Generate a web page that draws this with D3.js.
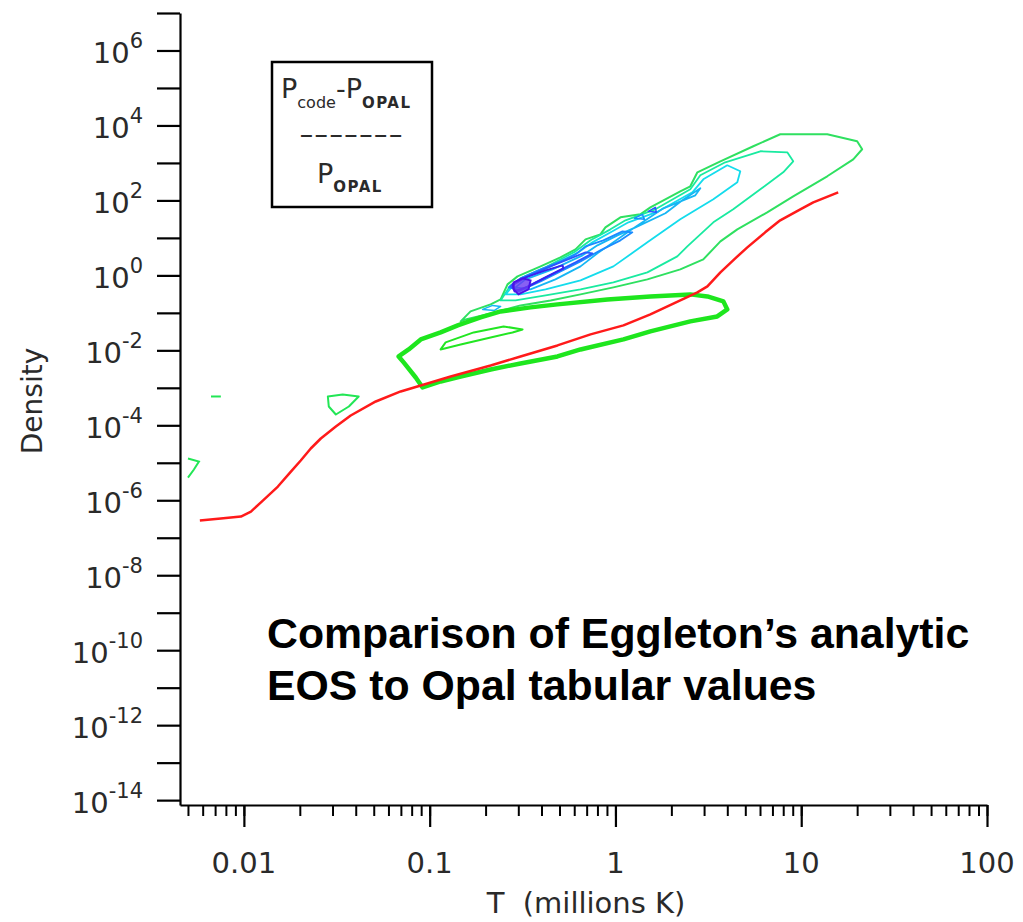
<!DOCTYPE html>
<html>
<head>
<meta charset="utf-8">
<script src="https://cdn.jsdelivr.net/npm/d3@7"></script>
<style>
  body { margin: 0; background: #fff; }
  svg { display: block; }
  .lbl { font-family: "DejaVu Sans", sans-serif; fill: #2a2a2a; }
  .title { font-family: "Liberation Sans", Arial, sans-serif; font-weight: bold; font-size: 42.8px; fill: #000; }
</style>
</head>
<body>
<svg id="chart" width="1023" height="922"></svg>
<script>
// axis extents (T in millions K, density)
var tDomain = [0.00453, 100];
var rhoDomain = [Math.pow(10, -14.13), 1e7];

var xMajor = [0.01, 0.1, 1, 10, 100];
var xMajorLabels = ["0.01", "0.1", "1", "10", "100"];
var yDecades = [-14, -13, -12, -11, -10, -9, -8, -7, -6, -5, -4, -3, -2, -1, 0, 1, 2, 3, 4, 5, 6, 7];
var yLabelExp = [-14, -12, -10, -8, -6, -4, -2, 0, 2, 4, 6];

// all curves as [log10 T, log10 density]
var redLine = [
  [-2.237, -6.542], [-2.124, -6.489], [-2.016, -6.435], [-1.962, -6.302], [-1.898, -6.008],
  [-1.817, -5.634], [-1.747, -5.234], [-1.694, -4.940], [-1.640, -4.619], [-1.586, -4.352],
  [-1.505, -4.032], [-1.425, -3.738], [-1.290, -3.364], [-1.156, -3.097], [-1.048, -2.937],
  [-0.887, -2.697], [-0.672, -2.403], [-0.511, -2.163], [-0.312, -1.869], [-0.134, -1.575],
  [0.043, -1.335], [0.188, -1.041], [0.349, -0.668], [0.441, -0.454], [0.495, -0.294],
  [0.565, 0.080], [0.645, 0.454], [0.710, 0.748], [0.806, 1.148], [0.887, 1.469],
  [0.995, 1.762], [1.065, 1.949], [1.199, 2.216]
];

var contourThick = [
  [-1.167, -2.163], [-1.113, -1.976], [-1.048, -1.709], [-0.941, -1.522], [-0.849, -1.335],
  [-0.726, -1.121], [-0.618, -0.961], [-0.457, -0.854], [-0.312, -0.774], [-0.043, -0.641],
  [0.188, -0.561], [0.403, -0.507], [0.495, -0.561], [0.581, -0.694], [0.602, -0.908],
  [0.548, -1.095], [0.403, -1.228], [0.188, -1.495], [0.043, -1.709], [-0.188, -1.976],
  [-0.312, -2.163], [-0.511, -2.350], [-0.672, -2.510], [-0.833, -2.697], [-0.941, -2.830],
  [-1.038, -2.991], [-1.075, -2.724], [-1.140, -2.323]
];

var contourInner = [
  [-0.941, -1.976], [-0.914, -1.789], [-0.763, -1.522], [-0.602, -1.362], [-0.500, -1.442],
  [-0.554, -1.522], [-0.672, -1.656], [-0.833, -1.842]
];

var contourOuter = [
  [-0.833, -1.228], [-0.780, -0.961], [-0.672, -0.774], [-0.618, -0.641], [-0.581, -0.240],
  [-0.527, -0.027], [-0.403, 0.240], [-0.296, 0.481], [-0.215, 0.694], [-0.161, 0.961],
  [-0.081, 1.095], [-0.054, 1.282], [0.027, 1.549], [0.134, 1.629], [0.188, 1.816],
  [0.349, 2.243], [0.403, 2.376], [0.441, 2.750], [0.565, 3.044], [0.742, 3.445],
  [0.887, 3.765], [1.140, 3.765], [1.301, 3.578], [1.328, 3.364], [1.280, 3.097],
  [1.140, 2.644], [0.957, 2.109], [0.817, 1.682], [0.656, 1.228], [0.565, 0.908],
  [0.473, 0.427], [0.349, 0.160], [0.172, -0.107], [-0.011, -0.320], [-0.188, -0.507],
  [-0.349, -0.668], [-0.511, -0.801], [-0.672, -1.015], [-0.806, -1.175]
];

var contour4 = [
  [-0.618, -0.668], [-0.565, -0.267], [-0.511, -0.080], [-0.376, 0.214], [-0.215, 0.641],
  [-0.134, 0.935], [-0.027, 1.228], [0.054, 1.469], [0.215, 1.762], [0.403, 2.296],
  [0.457, 2.670], [0.591, 3.017], [0.780, 3.311], [0.925, 3.284], [0.957, 3.044],
  [0.903, 2.750], [0.780, 2.296], [0.634, 1.762], [0.527, 1.415], [0.387, 0.774],
  [0.333, 0.507], [0.172, 0.080], [-0.011, -0.187], [-0.188, -0.374], [-0.376, -0.534],
  [-0.538, -0.668]
];

var contour5 = [
  [-0.591, -0.507], [-0.538, -0.187], [-0.484, -0.053], [-0.360, 0.214], [-0.199, 0.614],
  [-0.124, 0.881], [-0.016, 1.175], [0.070, 1.415], [0.231, 1.709], [0.414, 2.216],
  [0.473, 2.563], [0.602, 2.937], [0.672, 2.777], [0.656, 2.483], [0.527, 2.029],
  [0.349, 1.495], [0.172, 0.881], [-0.011, 0.240], [-0.188, -0.134], [-0.376, -0.374],
  [-0.511, -0.507]
];

var contour6 = [
  [-0.538, -0.320], [-0.484, -0.107], [-0.339, 0.160], [-0.177, 0.534], [-0.097, 0.801],
  [0.011, 1.068], [0.108, 1.282], [0.269, 1.656], [0.360, 2.003], [0.457, 2.323],
  [0.430, 2.136], [0.258, 1.789], [0.081, 1.202], [-0.097, 0.587], [-0.188, 0.240],
  [-0.323, -0.107], [-0.457, -0.374]
];

var contour7 = [
  [-0.575, -0.320], [-0.511, -0.080], [-0.403, 0.160], [-0.296, 0.374], [-0.215, 0.561],
  [-0.161, 0.774], [-0.065, 0.935], [0.038, 1.175], [0.091, 1.148], [0.027, 0.935],
  [-0.081, 0.668], [-0.188, 0.374], [-0.296, 0.107], [-0.403, -0.160], [-0.511, -0.401]
];

var contour8 = [
  [-0.565, -0.294], [-0.484, -0.053], [-0.376, 0.187], [-0.269, 0.401], [-0.161, 0.614],
  [-0.124, 0.587], [-0.215, 0.347], [-0.323, 0.080], [-0.430, -0.187], [-0.522, -0.427]
];

var contour9 = [
  [-0.554, -0.240], [-0.484, -0.053], [-0.376, 0.134], [-0.285, 0.267], [-0.280, 0.187],
  [-0.376, -0.053], [-0.468, -0.294], [-0.543, -0.427]
];

var peakBlob = [
  [-0.548, -0.187], [-0.500, -0.080], [-0.457, -0.134], [-0.468, -0.374], [-0.522, -0.507],
  [-0.548, -0.374]
];

var smallBlueA = [[0.102, 1.522], [0.145, 1.629], [0.156, 1.495]];
var smallBlueB = [[0.177, 1.709], [0.215, 1.816], [0.220, 1.682]];
var smallCyan = [[-0.715, -0.908], [-0.661, -0.801], [-0.618, -0.828], [-0.651, -0.935]];

var strayTriangle = [
  [-1.548, -3.231], [-1.468, -3.178], [-1.382, -3.231], [-1.435, -3.498], [-1.505, -3.712],
  [-1.543, -3.498]
];
var strayDash = [[-2.177, -3.231], [-2.124, -3.231]];
var strayHook = [[-2.301, -4.887], [-2.242, -4.967], [-2.269, -5.180], [-2.301, -5.394]];

var svg = d3.select("#chart");

var x = d3.scaleLog().domain(tDomain).range([180, 987]);
var y = d3.scaleLog().domain(rhoDomain).range([805, 13]);

function px(d) { return x(Math.pow(10, d[0])); }
function py(d) { return y(Math.pow(10, d[1])); }

var openLine = d3.line().x(px).y(py);
var closedLine = d3.line().x(px).y(py).curve(d3.curveLinearClosed);

// contours, lowest level first
var plot = svg.append("g");
var contours = [
  {pts: contourOuter, color: "#2fe060", w: 2},
  {pts: contour4, color: "#19eaa0", w: 1.8},
  {pts: contour5, color: "#14dcec", w: 1.8},
  {pts: contour6, color: "#16b6f4", w: 1.8},
  {pts: contour7, color: "#1a8cff", w: 1.8},
  {pts: contour8, color: "#2a58ff", w: 1.8},
  {pts: contour9, color: "#3a22f0", w: 2},
  {pts: smallBlueA, color: "#1a8cff", w: 1.5},
  {pts: smallBlueB, color: "#2a58ff", w: 1.5},
  {pts: smallCyan, color: "#16b6f4", w: 1.5},
  {pts: contourInner, color: "#22e622", w: 2},
  {pts: strayTriangle, color: "#22e655", w: 2}
];
contours.forEach(function (c) {
  plot.append("path")
    .attr("d", closedLine(c.pts))
    .attr("fill", "none")
    .attr("stroke", c.color)
    .attr("stroke-width", c.w)
    .attr("stroke-linejoin", "round");
});

plot.append("path")
  .attr("d", closedLine(peakBlob))
  .attr("fill", "#6a3af0")
  .attr("fill-opacity", 0.8)
  .attr("stroke", "#4a10e8")
  .attr("stroke-width", 2);

plot.append("path")
  .attr("d", closedLine(contourThick))
  .attr("fill", "none")
  .attr("stroke", "#1ee61e")
  .attr("stroke-width", 4.5)
  .attr("stroke-linejoin", "round");

[strayDash, strayHook].forEach(function (pts) {
  plot.append("path")
    .attr("d", openLine(pts))
    .attr("fill", "none")
    .attr("stroke", "#22e655")
    .attr("stroke-width", 2);
});

plot.append("path")
  .attr("d", openLine(redLine))
  .attr("fill", "none")
  .attr("stroke", "#ff1a1a")
  .attr("stroke-width", 2.5)
  .attr("stroke-linejoin", "round");

// y axis
var yAxis = d3.axisLeft(y)
  .tickValues(yDecades.map(function (e) { return Math.pow(10, e); }))
  .tickSize(23)
  .tickSizeOuter(0)
  .tickFormat("");
svg.append("g")
  .attr("transform", "translate(180,0)")
  .call(yAxis)
  .call(function (g) {
    g.selectAll("path, line").attr("stroke", "#000").attr("stroke-width", 2.2);
  });

var yLab = svg.append("g");
yLabelExp.forEach(function (e) {
  var t = yLab.append("text")
    .attr("class", "lbl")
    .attr("x", 143)
    .attr("y", y(Math.pow(10, e)) + 13)
    .attr("text-anchor", "end")
    .attr("font-size", 29)
    .text("10");
  t.append("tspan")
    .attr("dy", -15)
    .attr("font-size", 21)
    .text(String(e));
});

// x axis: minor then major ticks
svg.append("g")
  .attr("transform", "translate(0,805)")
  .call(d3.axisBottom(x).tickValues(x.ticks()).tickSize(11).tickSizeOuter(0).tickFormat(""))
  .call(function (g) {
    g.select(".domain").remove();
    g.selectAll("line").attr("stroke", "#000").attr("stroke-width", 2);
  });
svg.append("g")
  .attr("transform", "translate(0,805)")
  .call(d3.axisBottom(x).tickValues(xMajor).tickSize(22).tickSizeOuter(0).tickFormat(""))
  .call(function (g) {
    g.selectAll("path, line").attr("stroke", "#000").attr("stroke-width", 2.2);
  });

svg.append("g").selectAll("text")
  .data(xMajor)
  .join("text")
  .attr("class", "lbl")
  .attr("x", function (d) { return x(d); })
  .attr("y", 873)
  .attr("text-anchor", "middle")
  .attr("font-size", 29)
  .text(function (d, i) { return xMajorLabels[i]; });

// axis titles
svg.append("text")
  .attr("class", "lbl")
  .attr("x", 586)
  .attr("y", 913)
  .attr("text-anchor", "middle")
  .attr("font-size", 29)
  .attr("xml:space", "preserve")
  .text("T  (millions K)");

svg.append("text")
  .attr("class", "lbl")
  .attr("transform", "translate(42,401) rotate(-90)")
  .attr("text-anchor", "middle")
  .attr("font-size", 28)
  .text("Density");

// legend box
var leg = svg.append("g");
leg.append("rect")
  .attr("x", 272).attr("y", 62)
  .attr("width", 160).attr("height", 145)
  .attr("fill", "#fff")
  .attr("stroke", "#000")
  .attr("stroke-width", 2.5);

var l1 = leg.append("text").attr("class", "lbl").attr("x", 281).attr("y", 98).attr("font-size", 27).text("P");
l1.append("tspan").attr("dy", 10).attr("font-size", 16).text("code");
l1.append("tspan").attr("dy", -10).text("-P");
l1.append("tspan").attr("dy", 10).attr("font-size", 15).attr("font-weight", "bold").attr("letter-spacing", 1.5).text("OPAL");

leg.append("text").attr("class", "lbl")
  .attr("x", 299).attr("y", 143)
  .attr("font-size", 24)
  .attr("textLength", 104)
  .attr("lengthAdjust", "spacingAndGlyphs")
  .text("-------");

var l2 = leg.append("text").attr("class", "lbl").attr("x", 317).attr("y", 183).attr("font-size", 27).text("P");
l2.append("tspan").attr("dy", 9).attr("font-size", 15).attr("font-weight", "bold").attr("letter-spacing", 1.5).text("OPAL");

// caption
svg.append("text").attr("class", "title").attr("x", 267).attr("y", 648)
  .text("Comparison of Eggleton\u2019s analytic");
svg.append("text").attr("class", "title").attr("x", 267).attr("y", 700)
  .text("EOS to Opal tabular values");
</script>
</body>
</html>
